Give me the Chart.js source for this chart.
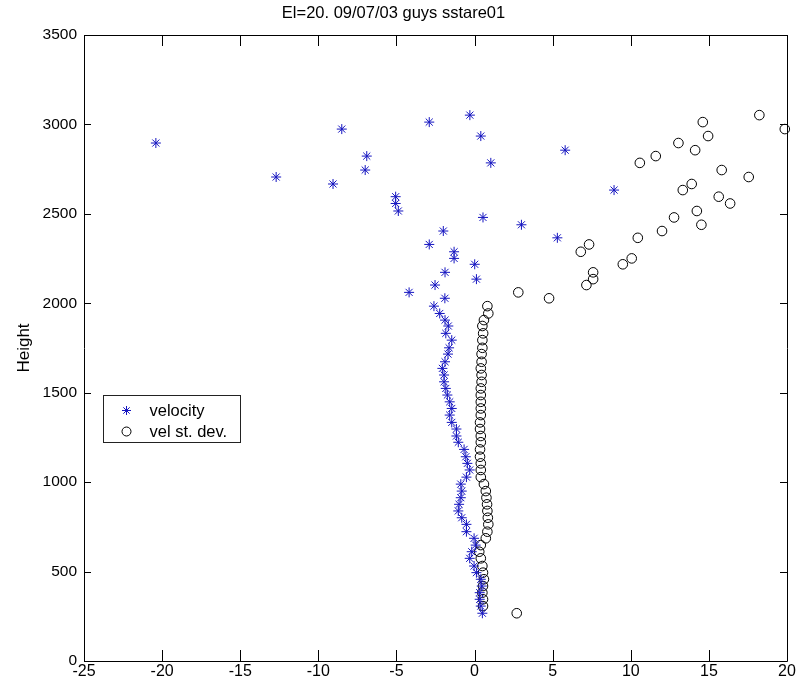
<!DOCTYPE html>
<html>
<head>
<meta charset="utf-8">
<script src="https://cdn.jsdelivr.net/npm/chart.js@4.4.1/dist/chart.umd.min.js"></script>
<style>
  html, body { margin: 0; padding: 0; background: #fff; }
  #wrap { width: 804px; height: 687px; }
</style>
</head>
<body>
<div id="wrap"><canvas id="profileChart" width="804" height="687"></canvas></div>
<script>
// Heights (m) of each range gate, bottom to top
const heights = [
  267, 307, 345, 382, 419, 457, 494, 531, 574, 611,
  648, 686, 723, 764, 801, 839, 876, 913, 950, 989,
  1028, 1068, 1105, 1142, 1183, 1223, 1258, 1297, 1334, 1375,
  1412, 1449, 1487, 1524, 1561, 1599, 1636, 1673, 1716, 1751,
  1794, 1832, 1873, 1906, 1943, 1984, 2028, 2061, 2102, 2135,
  2173, 2218, 2251, 2288, 2329, 2366, 2404, 2439, 2480, 2516,
  2558, 2596, 2633, 2667, 2706, 2745, 2785, 2823, 2856, 2896,
  2935, 2974, 3013, 3052
];

const velocity = [
  0.5, 0.4, 0.33, 0.33, 0.46, 0.4, 0.12, -0.03, -0.31, -0.18,
  0.07, -0.03, -0.52, -0.52, -0.82, -1.04, -0.99, -0.88, -0.82, -0.88,
  -0.52, -0.31, -0.46, -0.56, -0.67, -1.04, -1.16, -1.16, -1.46, -1.59,
  -1.46, -1.59, -1.74, -1.84, -1.95, -1.95, -2.06, -1.89, -1.7, -1.63,
  -1.46, -1.84, -1.68, -1.89, -2.23, -2.6, -1.9, -4.19, -2.53, 0.12,
  -1.89, 0.01, -1.31, -1.31, -2.9, 5.3, -2.0, 3.0, 0.54, -4.88,
  -5.05, -5.05, 8.93, -9.06, -12.7, -7.0, 1.04, -6.9, 5.8, -20.4,
  0.4, -8.5, -2.9, -0.3
];

const velStdDev = [
  2.7, 0.54, 0.54, 0.5, 0.54, 0.6, 0.54, 0.5, 0.4, 0.3,
  0.4, 0.72, 0.82, 0.88, 0.85, 0.82, 0.8, 0.76, 0.72, 0.6,
  0.4, 0.4, 0.4, 0.35, 0.35, 0.4, 0.4, 0.35, 0.35, 0.4,
  0.4, 0.4, 0.4, 0.4, 0.45, 0.45, 0.4, 0.45, 0.45, 0.5,
  0.5, 0.55, 0.5, 0.6, 0.88, 0.82, 4.77, 2.8, 7.16, 7.59,
  7.59, 9.49, 10.06, 6.8, 7.33, 10.45, 12.0, 14.52, 12.77, 14.23,
  16.36, 15.63, 13.33, 13.9, 17.55, 15.82, 10.58, 11.6, 14.12, 13.05,
  14.95, 19.86, 14.61, 18.23
];

const xTicks = [-25, -20, -15, -10, -5, 0, 5, 10, 15, 20];
const yTicks = [0, 500, 1000, 1500, 2000, 2500, 3000, 3500];
const seriesNames = ['velocity', 'vel st. dev.'];

const sans = "'Liberation Sans', Arial, sans-serif";
const blue = '#1414c0';

// MATLAB style box, inward ticks and the legend inside the axes
const matlabAxes = {
  id: 'matlabAxes',
  afterDatasetsDraw(chart) {
    const { ctx, chartArea: a, scales: { x, y } } = chart;
    ctx.save();
    ctx.strokeStyle = '#000';
    ctx.lineWidth = 1;
    ctx.beginPath();
    ctx.rect(Math.round(a.left) + 0.5, Math.round(a.top) + 0.5,
             Math.round(a.right - a.left), Math.round(a.bottom - a.top));
    x.ticks.forEach(t => {
      const px = Math.round(x.getPixelForValue(t.value)) + 0.5;
      ctx.moveTo(px, a.bottom); ctx.lineTo(px, a.bottom - 11);
      ctx.moveTo(px, a.top); ctx.lineTo(px, a.top + 11);
    });
    y.ticks.forEach(t => {
      const py = Math.round(y.getPixelForValue(t.value)) + 0.5;
      ctx.moveTo(a.left, py); ctx.lineTo(a.left + 7, py);
      ctx.moveTo(a.right, py); ctx.lineTo(a.right - 7, py);
    });
    ctx.stroke();

    // legend
    const lx = Math.round(a.left) + 19.5, ly = Math.round(a.top) + 360.5;
    ctx.fillStyle = '#fff';
    ctx.fillRect(lx, ly, 137, 47);
    ctx.strokeStyle = '#222';
    ctx.strokeRect(lx, ly, 137, 47);
    chart.data.datasets.forEach((ds, i) => {
      const cy = ly + 15 + i * 21;
      ctx.strokeStyle = ds.borderColor;
      ctx.fillStyle = 'rgba(0,0,0,0)';
      ctx.lineWidth = 1;
      Chart.helpers.drawPoint(ctx, { pointStyle: ds.pointStyle, radius: 4.5, rotation: 0, borderWidth: 1 }, lx + 23, cy);
      ctx.fillStyle = '#000';
      ctx.font = '16.5px ' + sans;
      ctx.textBaseline = 'middle';
      ctx.textAlign = 'left';
      ctx.fillText(seriesNames[i], lx + 46, cy + 1);
    });
    ctx.restore();
  }
};

new Chart(document.getElementById('profileChart'), {
  type: 'scatter',
  data: {
    datasets: [
      {
        label: seriesNames[0],
        data: heights.map((h, i) => ({ x: velocity[i], y: h })),
        pointStyle: 'star',
        pointRadius: 5,
        borderColor: blue,
        backgroundColor: blue,
        borderWidth: 1,
        clip: false
      },
      {
        label: seriesNames[1],
        data: heights.map((h, i) => ({ x: velStdDev[i], y: h })),
        pointStyle: 'circle',
        pointRadius: 4.8,
        borderColor: '#000',
        backgroundColor: 'rgba(0,0,0,0)',
        borderWidth: 1,
        clip: false
      }
    ]
  },
  options: {
    responsive: false,
    animation: false,
    events: [],
    layout: { padding: { left: 0, top: 0, right: 17, bottom: 0 } },
    plugins: {
      legend: { display: false },
      tooltip: { enabled: false },
      title: {
        display: true,
        text: 'El=20. 09/07/03 guys sstare01',
        color: '#000',
        font: { family: sans, size: 16.5, weight: 'normal', lineHeight: 1.2 },
        padding: { top: 4, bottom: 11.2 }
      }
    },
    scales: {
      x: {
        type: 'linear',
        min: -25,
        max: 20,
        afterBuildTicks: s => { s.ticks = xTicks.map(v => ({ value: v })); },
        afterFit: s => { s.height = 26; },
        grid: { display: false, drawTicks: false },
        border: { display: false },
        ticks: {
          color: '#000',
          padding: 1,
          maxRotation: 0,
          autoSkip: false,
          font: { family: sans, size: 16 },
          callback: v => String(v)
        }
      },
      y: {
        type: 'linear',
        min: 0,
        max: 3500,
        afterBuildTicks: s => { s.ticks = yTicks.map(v => ({ value: v })); },
        afterFit: s => { s.width = 84; },
        grid: { display: false, drawTicks: false },
        border: { display: false },
        title: {
          display: true,
          text: 'Height',
          color: '#000',
          font: { family: sans, size: 17 },
          padding: { top: 14, bottom: 0 }
        },
        ticks: {
          color: '#000',
          padding: 7,
          autoSkip: false,
          font: { family: sans, size: 15.5 },
          callback: v => String(v)
        }
      }
    }
  },
  plugins: [matlabAxes]
});
</script>
</body>
</html>
